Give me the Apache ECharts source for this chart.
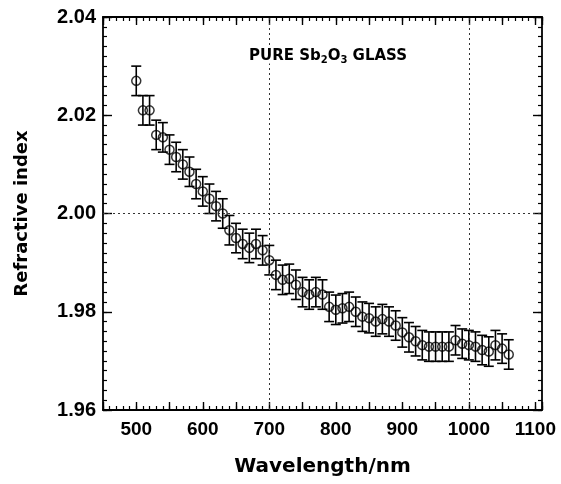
<!DOCTYPE html>
<html>
<head>
<meta charset="utf-8">
<script src="https://cdn.jsdelivr.net/npm/echarts@6/dist/echarts.min.js"></script>
<style>html,body{margin:0;padding:0;background:#fff;}#chart{width:561px;height:484px;}</style>
</head>
<body>
<div id="chart"></div>
<script>
const wavelengths = [500,510,520,530,540,550,560,570,580,590,600,610,620,630,640,650,660,670,680,690,700,710,720,730,740,750,760,770,780,790,800,810,820,830,840,850,860,870,880,890,900,910,920,930,940,950,960,970,980,990,1000,1010,1020,1030,1040,1050,1060];
const refractive = [2.027,2.021,2.021,2.016,2.0155,2.013,2.0115,2.010,2.0085,2.006,2.0045,2.003,2.0015,2.000,1.9966,1.995,1.9938,1.993,1.9938,1.9925,1.9905,1.9875,1.9865,1.9867,1.9855,1.984,1.9835,1.984,1.9835,1.981,1.9804,1.9807,1.981,1.980,1.979,1.9787,1.978,1.9785,1.978,1.9772,1.9758,1.9748,1.974,1.9732,1.9729,1.9729,1.9729,1.9729,1.9742,1.9735,1.9732,1.9729,1.9722,1.9719,1.9732,1.9725,1.9713];
const errors = [0.003,0.003,0.003,0.003,0.003,0.003,0.003,0.003,0.003,0.003,0.003,0.003,0.003,0.003,0.003,0.003,0.003,0.003,0.003,0.003,0.003,0.003,0.003,0.003,0.003,0.003,0.003,0.003,0.003,0.003,0.003,0.003,0.003,0.003,0.003,0.003,0.003,0.003,0.003,0.003,0.003,0.003,0.003,0.003,0.003,0.003,0.003,0.003,0.003,0.003,0.003,0.003,0.003,0.003,0.003,0.003,0.003];
const xTickLabels = [500,600,700,800,900,1000,1100];
const yTickLabels = ['1.96','1.98','2.00','2.02','2.04'];
const referenceX = [700,1000];
const referenceY = [2.00];

const chart = echarts.init(document.getElementById('chart'), null, {renderer:'canvas'});
const black = '#000';
const labelFont = {fontFamily:'Liberation Sans, Arial, sans-serif', fontWeight:'bold', color:black};
const nameFont = {fontFamily:'DejaVu Sans, sans-serif', fontWeight:'bold', color:black};

function baseX(extra){
  return Object.assign({type:'value', min:450, max:1110, splitLine:{show:false}, axisLabel:{show:false}, axisLine:{show:false}, axisTick:{show:false}}, extra);
}
function baseY(extra){
  return Object.assign({type:'value', min:1.96, max:2.04, splitLine:{show:false}, axisLabel:{show:false}, axisLine:{show:false}, axisTick:{show:false}}, extra);
}

const option = {
  animation:false,
  backgroundColor:'#fff',
  grid:{left:103, right:19, top:17, bottom:74, outerBoundsMode:'none'},
  xAxis:[
    baseX({position:'bottom', interval:50,
      axisLine:{show:true, lineStyle:{color:black, width:1.8}},
      axisTick:{show:true, inside:true, length:8, lineStyle:{color:black, width:1.4}},
      axisLabel:Object.assign({show:true, fontSize:19, margin:10, formatter:v => xTickLabels.includes(Math.round(v)) ? String(Math.round(v)) : ''}, labelFont),
      name:'Wavelength/nm', nameLocation:'middle', nameGap:47,
      nameTextStyle:Object.assign({fontSize:20}, nameFont)}),
    baseX({position:'bottom', interval:10,
      axisTick:{show:true, inside:true, length:4, lineStyle:{color:black, width:1.2}}}),
    baseX({position:'top', interval:50,
      axisLine:{show:true, lineStyle:{color:black, width:1.8}},
      axisTick:{show:true, inside:true, length:8, lineStyle:{color:black, width:1.4}}}),
    baseX({position:'top', interval:10,
      axisTick:{show:true, inside:true, length:4, lineStyle:{color:black, width:1.2}}})
  ],
  yAxis:[
    baseY({position:'left', interval:0.02,
      axisLine:{show:true, lineStyle:{color:black, width:1.8}},
      axisTick:{show:true, inside:true, length:9, lineStyle:{color:black, width:1.4}},
      axisLabel:Object.assign({show:true, fontSize:20, margin:7, formatter:v => {const s = v.toFixed(2); return yTickLabels.includes(s) ? s : '';}}, labelFont),
      name:'Refractive index', nameLocation:'middle', nameGap:72,
      nameTextStyle:Object.assign({fontSize:18}, nameFont)}),
    baseY({position:'left', interval:0.002,
      axisTick:{show:true, inside:true, length:4, lineStyle:{color:black, width:1.2}}}),
    baseY({position:'right', interval:0.02,
      axisLine:{show:true, lineStyle:{color:black, width:1.8}},
      axisTick:{show:true, inside:true, length:9, lineStyle:{color:black, width:1.4}}}),
    baseY({position:'right', interval:0.002,
      axisTick:{show:true, inside:true, length:4, lineStyle:{color:black, width:1.2}}})
  ],
  graphic:[{
    type:'text', left:249, top:47, z:10,
    style:{
      text:'{m|PURE Sb}{s|2}{m|O}{s|3}{m| GLASS}',
      rich:{
        m:{fontFamily:'DejaVu Sans, sans-serif', fontWeight:'bold', fontSize:15, fill:black, backgroundColor:'#fff'},
        s:{fontFamily:'DejaVu Sans, sans-serif', fontWeight:'bold', fontSize:10, fill:black, padding:[8,0,0,0], backgroundColor:'#fff'}
      }
    }
  }],
  series:[
    {
      type:'custom', xAxisIndex:0, yAxisIndex:0, z:2,
      data: wavelengths.map((w,i) => [w, refractive[i], errors[i]]),
      encode:{x:0, y:1},
      renderItem:(params, api) => {
        const x = api.value(0), y = api.value(1), e = api.value(2);
        const t = api.coord([x, y + e]), b = api.coord([x, y - e]);
        const hw = 5;
        const st = {stroke:black, lineWidth:1.6};
        return {type:'group', children:[
          {type:'line', shape:{x1:t[0], y1:t[1], x2:b[0], y2:b[1]}, style:st},
          {type:'line', shape:{x1:t[0]-hw, y1:t[1], x2:t[0]+hw, y2:t[1]}, style:st},
          {type:'line', shape:{x1:b[0]-hw, y1:b[1], x2:b[0]+hw, y2:b[1]}, style:st}
        ]};
      }
    },
    {
      type:'scatter', xAxisIndex:0, yAxisIndex:0, z:3,
      data: wavelengths.map((w,i) => [w, refractive[i]]),
      symbol:'circle', symbolSize:9,
      itemStyle:{color:'rgba(0,0,0,0)', borderColor:black, borderWidth:1.5},
      markLine:{
        silent:true, symbol:'none', label:{show:false},
        lineStyle:{color:'#333', width:1, type:[2,3]},
        data: referenceX.map(v => ({xAxis:v})).concat(referenceY.map(v => ({yAxis:v})))
      }
    }
  ]
};
chart.setOption(option);
</script>
</body>
</html>
